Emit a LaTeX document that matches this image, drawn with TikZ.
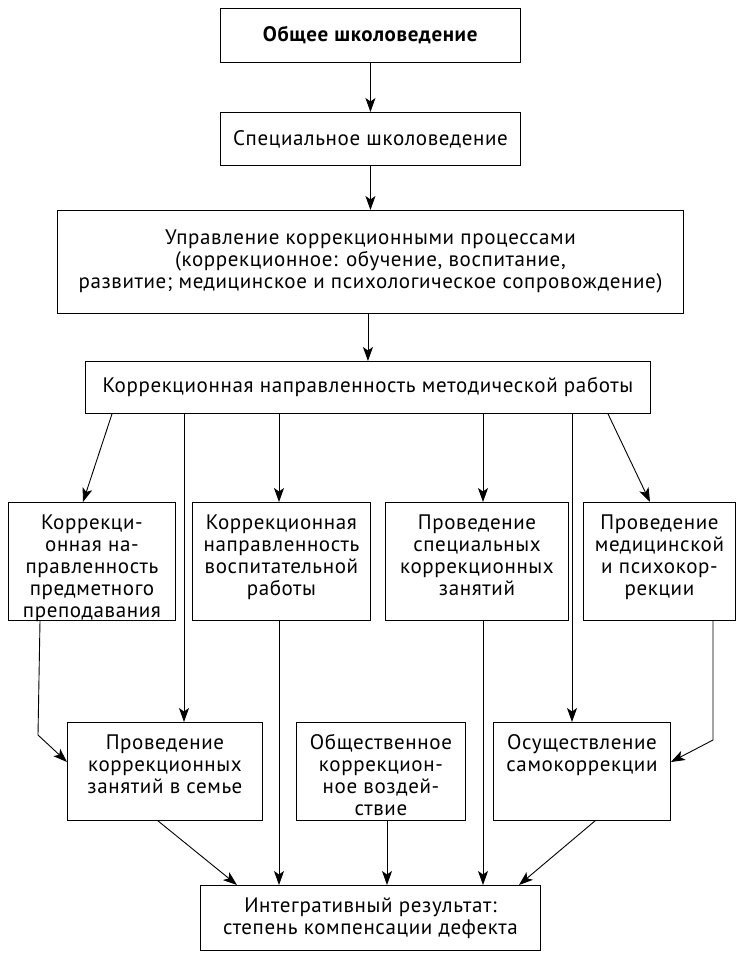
\documentclass[tikz,border=0pt]{standalone}
\usepackage{fontspec}
\setmainfont[LetterSpace=3]{PT Sans}
\usetikzlibrary{arrows.meta}

\newcommand{\vverh}[3]{\parbox[c][#2pt][t]{#1pt}{\centering\vspace*{12pt}\strut #3\par}}

\begin{document}
\begin{tikzpicture}[x=1pt,y=-1pt,line width=0.9pt,
  ramka/.style={draw,inner sep=0pt,anchor=north west,align=center},
  strelka/.style={-{Stealth[length=14pt,width=10pt,inset=3.5pt]}}]
\useasboundingbox (0,0) rectangle (738,957);
\fontsize{21}{22}\selectfont

% upper chain
\node[ramka,minimum width=300pt,minimum height=54pt] (obsh) at (220,8) {\textbf{Общее школоведение}};
\node[ramka,minimum width=300pt,minimum height=53pt] (spec) at (220,112) {Специальное школоведение};
\node[ramka,minimum width=626pt,minimum height=103pt] (upr) at (57,210)
  {Управление коррекционными процессами\\(коррекционное: обучение, воспитание,\\развитие; медицинское и психологическое сопровождение)};
\node[ramka,minimum width=565pt,minimum height=52pt] (metod) at (85,361) {Коррекционная направленность методической работы};

% middle row
\node[ramka] (predm) at (8,502) {\vverh{167}{118}{Коррекци-\\онная на-\\правленность\\предметного\\преподавания}};
\node[ramka] (vosp) at (192,502) {\vverh{178}{118}{Коррекционная\\направленность\\воспитательной\\работы}};
\node[ramka] (zan) at (385,502) {\vverh{183}{118}{Проведение\\специальных\\коррекционных\\занятий}};
\node[ramka] (med) at (583,502) {\vverh{152}{118}{Проведение\\медицинской\\и психокор-\\рекции}};

% lower row
\node[ramka] (semya) at (67,722) {\vverh{195}{98}{Проведение\\коррекционных\\занятий в семье}};
\node[ramka] (obshv) at (296,722) {\vverh{169}{98}{Общественное\\коррекцион-\\ное воздей-\\ствие}};
\node[ramka] (samok) at (493,722) {\vverh{177}{98}{Осуществление\\самокоррекции}};

\node[ramka,minimum width=340pt,minimum height=65pt] (itog) at (200,885) {Интегративный результат:\\степень компенсации дефекта};

\coordinate (izgib1) at (38,735);
\coordinate (izgib2) at (713,740);

% arrows
\draw[strelka] (obsh.south) -- (spec.north);
\draw[strelka] (spec.south) -- (upr.north);
\draw[strelka] (upr.south -| metod.north) -- (metod.north);

\draw[strelka] ([xshift=27pt]metod.south west) -- ([xshift=75pt]predm.north west);
\draw[strelka] ([xshift=99pt]metod.south west) -- ([xshift=99pt]metod.south west |- semya.north);
\draw[strelka] ([xshift=194pt]metod.south west) -- ([xshift=194pt]metod.south west |- vosp.north);
\draw[strelka] ([xshift=398pt]metod.south west) -- ([xshift=398pt]metod.south west |- zan.north);
\draw[strelka] ([xshift=487pt]metod.south west) -- ([xshift=487pt]metod.south west |- samok.north);
\draw[strelka] ([xshift=523pt]metod.south west) -- ([xshift=67pt]med.north west);

\draw[strelka] ([xshift=32pt]predm.south west) -- (izgib1) -- ([yshift=-40pt]semya.north west);
\draw[strelka] ([xshift=130pt]med.south west) -- (izgib2) -- ([yshift=-40pt]samok.north east);

\draw[strelka] ([xshift=91pt]semya.south west) -- ([xshift=37pt]itog.north west);
\draw[strelka] ([xshift=87pt]vosp.south west) -- ([xshift=87pt]vosp.south west |- itog.north);
\draw[strelka] ([xshift=91pt]obshv.south west) -- ([xshift=91pt]obshv.south west |- itog.north);
\draw[strelka] ([xshift=98pt]zan.south west) -- ([xshift=98pt]zan.south west |- itog.north);
\draw[strelka] ([xshift=102pt]samok.south west) -- ([xshift=319pt]itog.north west);

\end{tikzpicture}
\end{document}
